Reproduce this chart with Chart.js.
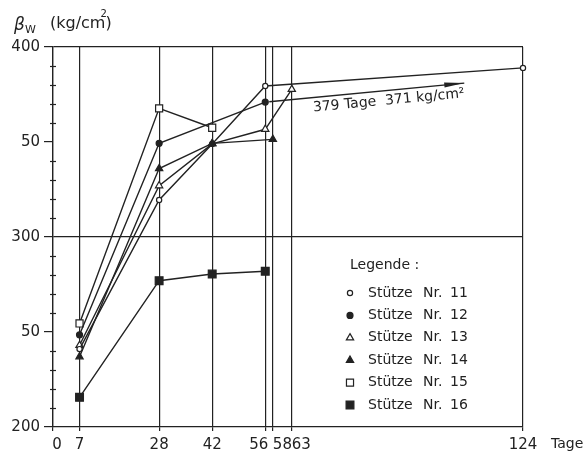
<!DOCTYPE html>
<html lang="de">
<head>
<meta charset="UTF-8">
<title>Druckfestigkeit der Stützen</title>
<script src="https://cdn.jsdelivr.net/npm/chart.js@4"></script>
<style>
  body { margin: 0; background: #fff; }
  canvas { display: block; }
</style>
</head>
<body>
<canvas id="grafik" width="587" height="457"></canvas>
<script>
// Betonalter in Tagen und Druckfestigkeit βw in kg/cm² je Stütze
const tage11 = [7, 28, 42, 56, 124];
const werte11 = [241, 319.5, 349, 379.5, 389];
const tage12 = [7, 28, 56];
const werte12 = [248.5, 349.3, 371];
const tage13 = [7, 28, 42, 56, 63];
const werte13 = [243, 327, 349, 356.7, 377.7];
const tage14 = [7, 28, 42, 58];
const werte14 = [237, 336, 349.3, 351.4];
const tage15 = [7, 28, 42];
const werte15 = [254.5, 367.7, 357.5];
const tage16 = [7, 28, 42, 56];
const werte16 = [215.6, 277, 280.5, 282];

const namen = ['Stütze Nr. 11', 'Stütze Nr. 12', 'Stütze Nr. 13', 'Stütze Nr. 14', 'Stütze Nr. 15', 'Stütze Nr. 16'];

// Achsen
const xTicks = [0, 7, 28, 42, 56, 58, 63, 124];
const xTickLabels = ['0', '7', '28', '42', '56', '58', '63', '124'];
const yTicks = [200, 250, 300, 350, 400];
const yTickLabels = ['200', '50', '300', '50', '400'];

// Pfeil für Stütze 12 (Wert nach 379 Tagen)
const pfeilVon = { x: 56, y: 371 };
const pfeilBis = { x: 108.5, y: 381 };
const pfeilText = '379 Tage  371 kg/cm²';

const INK = '#222';
const FONT = '"DejaVu Sans", sans-serif';

function punkte(tage, werte) {
    return tage.map((t, i) => ({ x: t, y: werte[i] }));
}

// Stil je Stütze: Punktform und ob gefüllt
const stile = [
    { form: 'circle', r: 2.6, voll: false },
    { form: 'circle', r: 3, voll: true },
    { form: 'triangle', r: 4.2, voll: false },
    { form: 'triangle', r: 4.2, voll: true },
    { form: 'rect', r: 5, voll: false },
    { form: 'rect', r: 5.5, voll: true }
];

const reihen = [
    punkte(tage11, werte11), punkte(tage12, werte12), punkte(tage13, werte13),
    punkte(tage14, werte14), punkte(tage15, werte15), punkte(tage16, werte16)
];

const datasets = reihen.map((d, i) => ({
    label: namen[i],
    data: d,
    borderColor: INK,
    borderWidth: 1.4,
    pointStyle: stile[i].form,
    pointRadius: stile[i].r,
    pointBorderWidth: 1.2,
    pointBorderColor: INK,
    pointBackgroundColor: stile[i].voll ? INK : '#fff',
    order: i === 3 ? 0 : 1,
    clip: false,
    tension: 0
}));

function zeichnePunkt(ctx, stil, x, y) {
    ctx.save();
    ctx.fillStyle = stil.voll ? INK : '#fff';
    ctx.strokeStyle = INK;
    ctx.lineWidth = 1.2;
    Chart.helpers.drawPoint(ctx, { pointStyle: stil.form, rotation: 0, radius: stil.r, borderWidth: 1.2 }, x, y);
    ctx.restore();
}

const beschriftung = {
    id: 'beschriftung',
    afterDraw(chart) {
        const ctx = chart.ctx;
        const xs = chart.scales.x;
        const ys = chart.scales.y;
        const area = chart.chartArea;
        ctx.save();
        ctx.fillStyle = INK;
        ctx.strokeStyle = INK;

        // kleine Zwischenstriche an der y-Achse
        ctx.lineWidth = 1.2;
        for (let v = 210; v < 400; v += 10) {
            if (v % 50 === 0) continue;
            const py = Math.round(ys.getPixelForValue(v)) + 0.5;
            ctx.beginPath();
            ctx.moveTo(area.left - 3, py);
            ctx.lineTo(area.left + 3, py);
            ctx.stroke();
        }

        // x-Beschriftung
        ctx.font = '15px ' + FONT;
        ctx.textBaseline = 'alphabetic';
        xTicks.forEach((t, i) => {
            const px = xs.getPixelForValue(t);
            let align = 'center', dx = 0;
            if (t === 56) { align = 'right'; dx = 3; }
            if (t === 58 || t === 63) { align = 'left'; dx = 0; }
            if (t === 0) dx = 4;
            ctx.textAlign = align;
            ctx.fillText(xTickLabels[i], px + dx, area.bottom + 22);
        });
        ctx.font = '14px ' + FONT;
        ctx.textAlign = 'left';
        ctx.fillText('Tage', area.right + 28, area.bottom + 21);

        // Titel der y-Achse
        ctx.font = 'italic 17px ' + FONT;
        ctx.fillText('β', 14, 30);
        ctx.font = '11px ' + FONT;
        ctx.fillText('W', 25, 33);
        ctx.font = '16px ' + FONT;
        ctx.fillText('(kg/cm', 50, 28);
        const wCm = ctx.measureText('(kg/cm').width;
        ctx.fillText(')', 50 + wCm, 28);
        ctx.font = '10px ' + FONT;
        ctx.fillText('2', 50 + wCm - 5, 17);

        // Pfeil
        const x0 = xs.getPixelForValue(pfeilVon.x), y0 = ys.getPixelForValue(pfeilVon.y);
        const x1 = xs.getPixelForValue(pfeilBis.x), y1 = ys.getPixelForValue(pfeilBis.y);
        const w = Math.atan2(y1 - y0, x1 - x0);
        ctx.lineWidth = 1.4;
        ctx.beginPath();
        ctx.moveTo(x0 + 4 * Math.cos(w), y0 + 4 * Math.sin(w));
        ctx.lineTo(x1, y1);
        ctx.stroke();
        ctx.save();
        ctx.translate(x1, y1);
        ctx.rotate(w);
        ctx.beginPath();
        ctx.moveTo(0, 0);
        ctx.lineTo(-20, -2.6);
        ctx.lineTo(-20, 2.6);
        ctx.closePath();
        ctx.fill();
        ctx.restore();

        ctx.save();
        ctx.translate(x0 + 47 * Math.cos(w), y0 + 47 * Math.sin(w));
        ctx.rotate(w);
        ctx.font = '14px ' + FONT;
        ctx.textAlign = 'left';
        ctx.fillText(pfeilText, 0, 14);
        ctx.restore();

        // Legende
        const lx = area.left + 297, ly = area.top + 218;
        ctx.font = '14px ' + FONT;
        ctx.textAlign = 'left';
        ctx.textBaseline = 'middle';
        ctx.fillText('Legende :', lx, ly);
        namen.forEach((n, i) => {
            const ry = ly + 28 + i * 22.4;
            zeichnePunkt(ctx, stile[i], lx, ry);
            const teile = n.split(' ');
            ctx.fillStyle = INK;
            ctx.fillText(teile[0], lx + 18, ry);
            ctx.fillText(teile[1], lx + 73, ry);
            ctx.fillText(teile[2], lx + 100, ry);
        });
        ctx.restore();
    }
};

new Chart(document.getElementById('grafik'), {
    type: 'line',
    data: { datasets: datasets },
    options: {
        responsive: false,
        animation: false,
        layout: { padding: { top: 47, right: 64, left: 0, bottom: 0 } },
        plugins: { legend: { display: false }, tooltip: { enabled: false } },
        scales: {
            x: {
                type: 'linear',
                min: 0,
                max: 124,
                afterBuildTicks: s => { s.ticks = xTicks.map(v => ({ value: v })); },
                afterFit: s => { s.height = 30; },
                ticks: { display: false },
                grid: { color: INK, lineWidth: 1.2, tickLength: 4 },
                border: { color: INK, width: 1.3 }
            },
            y: {
                min: 200,
                max: 400,
                afterFit: s => { s.width = 53; },
                ticks: {
                    stepSize: 10,
                    autoSkip: false,
                    color: INK,
                    padding: 4,
                    font: { family: FONT, size: 15 },
                    callback: v => {
                        const i = yTicks.indexOf(v);
                        return i >= 0 ? yTickLabels[i] : '';
                    }
                },
                grid: {
                    lineWidth: 1.2,
                    tickLength: 9,
                    color: c => (c.tick && (c.tick.value === 300 || c.tick.value === 400)) ? INK : 'rgba(0,0,0,0)',
                    tickColor: c => (c.tick && c.tick.value % 50 === 0) ? INK : 'rgba(0,0,0,0)'
                },
                border: { color: INK, width: 1.3 }
            }
        }
    },
    plugins: [beschriftung]
});
</script>
</body>
</html>
